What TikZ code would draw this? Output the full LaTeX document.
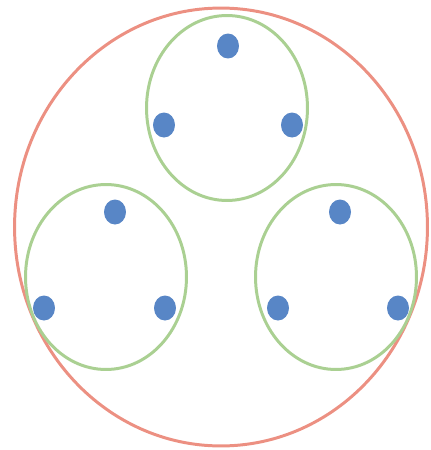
\documentclass[tikz,border=0pt]{standalone}
\usepackage{tikz}
\usetikzlibrary{shapes.geometric, positioning}
\definecolor{salmonred}{RGB}{236, 144, 130}
\definecolor{softgreen}{RGB}{170, 208, 146}
\definecolor{dotblue}{RGB}{88, 134, 198}

\begin{document}
\begin{tikzpicture}[
    x=0.02cm, y=-0.02cm,
    outerset/.style={draw=salmonred, ellipse, line width=1.7pt, minimum width=8.26cm, minimum height=8.76cm, inner sep=0pt},
    group/.style={draw=softgreen, ellipse, line width=1.7pt, minimum width=3.22cm, minimum height=3.7cm, inner sep=0pt},
    elem/.style={fill=dotblue, ellipse, minimum width=0.44cm, minimum height=0.5cm, inner sep=0pt}
]
\useasboundingbox (0,0) rectangle (431,450);

% Outer set
\node[outerset] (outer) at (221,227) {};

% Groups
\node[group] (grp_top) at (227,108) {};
\node[group] (grp_left) at (106,277) {};
\node[group] (grp_right) at (336,277) {};

% Elements of the top group
\node[elem] (t1) at (228,46) {};
\node[elem] (t2) at (164,125) {};
\node[elem] (t3) at (292,125) {};

% Elements of the left group
\node[elem] (l1) at (115,212) {};
\node[elem] (l2) at (44,308) {};
\node[elem] (l3) at (165,308) {};

% Elements of the right group
\node[elem] (r1) at (340,212) {};
\node[elem] (r2) at (278,308) {};
\node[elem] (r3) at (398,308) {};

\end{tikzpicture}
\end{document}
